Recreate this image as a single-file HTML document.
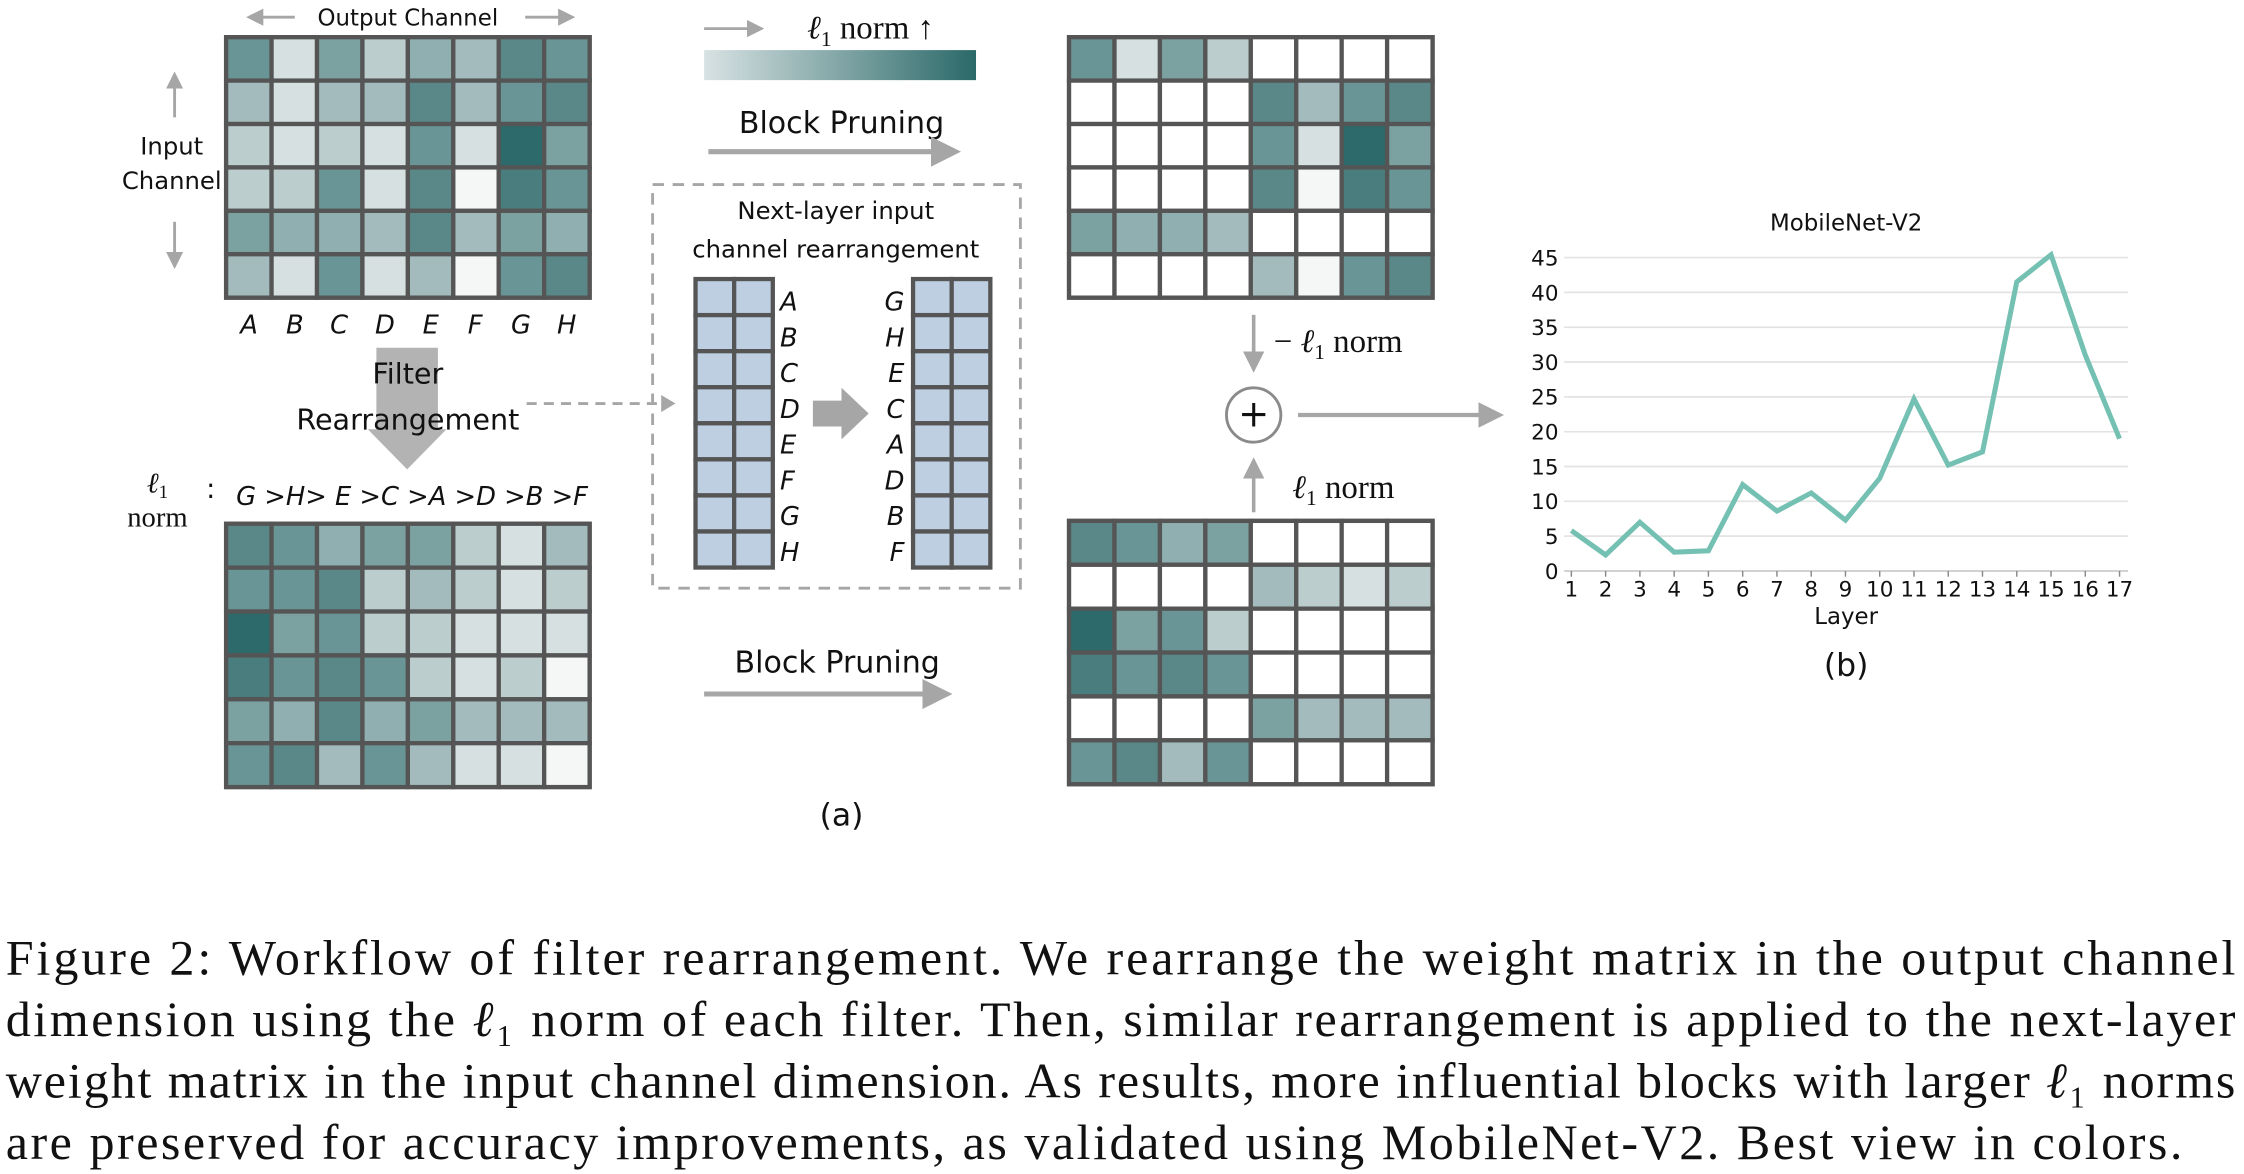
<!DOCTYPE html>
<html><head><meta charset="utf-8"><style>
html,body{margin:0;padding:0;background:#fff;}
svg{display:block;}
.s{font-family:"DejaVu Sans","Liberation Sans",sans-serif;fill:#111;}
.i{font-family:"DejaVu Sans","Liberation Sans",sans-serif;font-style:italic;fill:#111;}
.r{font-family:"Liberation Serif",serif;fill:#111;}
</style></head><body>
<svg id="sv" width="2244" height="1174" viewBox="0 0 1568 820.4" preserveAspectRatio="none" xmlns="http://www.w3.org/2000/svg">
<defs>
<linearGradient id="g" x1="0" x2="1"><stop offset="0" stop-color="#d8e2e3"/><stop offset="1" stop-color="#2b6969"/></linearGradient>
<marker id="ah" markerWidth="6" markerHeight="6" refX="5" refY="3" orient="auto" markerUnits="strokeWidth"><path d="M0,0 L6,3 L0,6 z" fill="#a6a6a6"/></marker>
</defs>
<g id="mats"></g>
<text class="s" x="285" y="18" font-size="16" text-anchor="middle">Output Channel</text>
<line x1="206" y1="12" x2="174" y2="12" stroke="#a6a6a6" stroke-width="2" marker-end="url(#ah)"/>
<line x1="367" y1="12" x2="400" y2="12" stroke="#a6a6a6" stroke-width="2" marker-end="url(#ah)"/>
<text class="s" x="120" y="108" font-size="17" text-anchor="middle">Input</text>
<text class="s" x="120" y="132" font-size="17" text-anchor="middle">Channel</text>
<line x1="122" y1="82" x2="122" y2="52" stroke="#a6a6a6" stroke-width="2" marker-end="url(#ah)"/>
<line x1="122" y1="155" x2="122" y2="186" stroke="#a6a6a6" stroke-width="2" marker-end="url(#ah)"/>
<g font-size="18" text-anchor="middle" class="i">
<text class="i" x="174" y="233">A</text><text class="i" x="206" y="233">B</text><text class="i" x="237" y="233">C</text><text class="i" x="269" y="233">D</text><text class="i" x="301" y="233">E</text><text class="i" x="332" y="233">F</text><text class="i" x="364" y="233">G</text><text class="i" x="396" y="233">H</text>
</g>
<path d="M263,243 H306 V300 H312 L284.5,328 L257,300 H263 Z" fill="#b3b3b3"/>
<text class="s" x="285" y="268" font-size="20" text-anchor="middle">Filter</text>
<text class="s" x="285" y="300" font-size="20" text-anchor="middle">Rearrangement</text>
<line x1="368" y1="282" x2="466" y2="282" stroke="#a6a6a6" stroke-width="2" stroke-dasharray="7,5"/>
<path d="M462,276 L472,282 L462,288 Z" fill="#a6a6a6"/>
<text class="r" x="110" y="344" font-size="20" text-anchor="middle"><tspan font-style="italic">ℓ</tspan><tspan font-size="13" dy="4">1</tspan></text>
<text class="r" x="110" y="368" font-size="20" text-anchor="middle">norm</text>
<text class="s" x="144" y="348" font-size="19">:</text>
<text class="i" x="165" y="353" font-size="18">G &gt;H&gt; E &gt;C &gt;A &gt;D &gt;B &gt;F</text>
<line x1="492" y1="20" x2="532" y2="20" stroke="#a6a6a6" stroke-width="2" marker-end="url(#ah)"/>
<text class="r" x="564" y="27" font-size="23"><tspan font-style="italic">ℓ</tspan><tspan font-size="15" dy="5">1</tspan><tspan dy="-5"> norm ↑</tspan></text>
<rect x="492" y="35" width="190" height="21" fill="url(#g)"/>
<text class="s" x="588" y="93" font-size="21" text-anchor="middle">Block Pruning</text>
<line x1="495" y1="106" x2="668" y2="106" stroke="#a6a6a6" stroke-width="3.5" marker-end="url(#ah)"/>
<text class="s" x="585" y="470" font-size="21" text-anchor="middle">Block Pruning</text>
<line x1="492" y1="485" x2="662" y2="485" stroke="#a6a6a6" stroke-width="3.5" marker-end="url(#ah)"/>
<text class="s" x="588" y="577" font-size="22" text-anchor="middle">(a)</text>
<rect x="456" y="129" width="257" height="282" fill="none" stroke="#a6a6a6" stroke-width="2" stroke-dasharray="8,6"/>
<text class="s" x="584" y="153" font-size="17" text-anchor="middle">Next-layer input</text>
<text class="s" x="584" y="180" font-size="17" text-anchor="middle">channel rearrangement</text>
<g id="cols"></g>
<g font-size="18" class="i">
<text class="i" x="545" y="217">A</text><text class="i" x="545" y="242">B</text><text class="i" x="545" y="267">C</text><text class="i" x="545" y="292">D</text><text class="i" x="545" y="317">E</text><text class="i" x="545" y="342">F</text><text class="i" x="545" y="367">G</text><text class="i" x="545" y="392">H</text>
</g>
<g font-size="18" class="i" text-anchor="end">
<text class="i" x="632" y="217">G</text><text class="i" x="632" y="242">H</text><text class="i" x="632" y="267">E</text><text class="i" x="632" y="292">C</text><text class="i" x="632" y="317">A</text><text class="i" x="632" y="342">D</text><text class="i" x="632" y="367">B</text><text class="i" x="632" y="392">F</text>
</g>
<path d="M568,280 H588 V271 L607,289 L588,307 V298 H568 Z" fill="#a6a6a6"/>
<line x1="876" y1="220" x2="876" y2="258" stroke="#a6a6a6" stroke-width="2.5" marker-end="url(#ah)"/>
<text class="r" x="890" y="246" font-size="23">− <tspan font-style="italic">ℓ</tspan><tspan font-size="15" dy="5">1</tspan><tspan dy="-5"> norm</tspan></text>
<circle cx="876" cy="290" r="19" fill="#fff" stroke="#8a8a8a" stroke-width="2"/>
<text class="s" x="876" y="298" font-size="26" text-anchor="middle">+</text>
<line x1="876" y1="358" x2="876" y2="322" stroke="#a6a6a6" stroke-width="2.5" marker-end="url(#ah)"/>
<text class="r" x="903" y="348" font-size="23"><tspan font-style="italic">ℓ</tspan><tspan font-size="15" dy="5">1</tspan><tspan dy="-5"> norm</tspan></text>
<line x1="907" y1="290" x2="1048" y2="290" stroke="#a6a6a6" stroke-width="3" marker-end="url(#ah)"/>
<g id="chart"></g>
<text class="s" x="1290" y="161" font-size="16" text-anchor="middle">MobileNet-V2</text>
<text class="s" x="1290" y="436" font-size="16" text-anchor="middle">Layer</text>
<text class="s" x="1290" y="472" font-size="22" text-anchor="middle">(b)</text>
<g font-size="35" class="r">
<text class="r" x="4" y="681" textLength="1558" lengthAdjust="spacing">Figure 2:  Workflow of filter rearrangement. We rearrange the weight matrix in the output channel</text>
<text class="r" x="4" y="724" textLength="1558" lengthAdjust="spacing">dimension using the <tspan font-style="italic">ℓ</tspan>₁ norm of each filter. Then, similar rearrangement is applied to the next-layer</text>
<text class="r" x="4" y="767" textLength="1558" lengthAdjust="spacing">weight matrix in the input channel dimension. As results, more influential blocks with larger <tspan font-style="italic">ℓ</tspan>₁ norms</text>
<text class="r" x="4" y="810" textLength="1521" lengthAdjust="spacing">are preserved for accuracy improvements, as validated using MobileNet-V2. Best view in colors.</text>
</g>
</svg>
<script>
var C=["#f5f7f7","#d6e0e1","#bccdce","#a3bbbc","#8fafb0","#7ca1a1","#6a9596","#5a8889","#4a7d7e","#2d6a6b"];
var NS="http://www.w3.org/2000/svg";
function R(p,x,y,w,h,f,sw){var r=document.createElementNS(NS,"rect");r.setAttribute("x",x);r.setAttribute("y",y);r.setAttribute("width",w);r.setAttribute("height",h);r.setAttribute("fill",f);r.setAttribute("stroke","#555");r.setAttribute("stroke-width",sw);p.appendChild(r);}
var W=-1;
var M1=[[6,1,5,2,4,3,7,6],[3,1,3,3,7,3,6,7],[2,1,2,1,6,1,9,5],[2,2,6,1,7,0,8,6],[5,4,4,3,7,3,5,4],[3,1,6,1,3,0,6,7]];
var M2=[[7,6,4,5,5,2,1,3],[6,6,7,2,3,2,1,2],[9,5,6,2,2,1,1,1],[8,6,7,6,2,1,2,0],[5,4,7,4,5,3,3,3],[6,7,3,6,3,1,1,0]];
function prune(M,pat){return M.map(function(r,i){return r.map(function(v,j){var left=j<4;return (pat[i]==(left?1:0))?v:W;});});}
var M3=prune(M1,[1,0,0,0,1,0]);
var M4=prune(M2,[1,0,1,1,0,1]);
var g=document.getElementById("mats");
function mat(M,x0,y0,w,h){var cw=w/8,ch=h/6;R(g,x0,y0,w,h,"#555",3);
for(var i=0;i<6;i++)for(var j=0;j<8;j++){var v=M[i][j];R(g,x0+j*cw,y0+i*ch,cw,ch,v<0?"#fff":C[v],3);}}
mat(M1,158,26,254,182);mat(M2,158,366,254,184);mat(M3,747,26,254,182);mat(M4,747,364,254,184);
var cg=document.getElementById("cols");
[[486,195],[638,195]].forEach(function(p){for(var i=0;i<8;i++)for(var j=0;j<2;j++)R(cg,p[0]+j*27,p[1]+i*25.2,27,25.2,"#bfcfe2",3);});
var ch=document.getElementById("chart");
var X=function(k){return 1098+(k-1)*23.94;},Y=function(v){return 399-v*4.867;};
var h="";
for(var v=0;v<=45;v+=5){var y=Y(v);h+='<line x1="1093" x2="1487" y1="'+y+'" y2="'+y+'" stroke="'+(v?"#e3e3e3":"#ccc")+'" stroke-width="1.2"/>';
h+='<text x="1089" y="'+(y+5.5)+'" font-size="15" text-anchor="end" font-family="DejaVu Sans,sans-serif" fill="#111">'+v+'</text>';}
for(var k=1;k<=17;k++){h+='<line x1="'+X(k)+'" x2="'+X(k)+'" y1="399" y2="403" stroke="#888"/>';h+='<text x="'+X(k)+'" y="417" font-size="15" text-anchor="middle" font-family="DejaVu Sans,sans-serif" fill="#111">'+k+'</text>';}
var d=[5.8,2.3,7,2.7,2.9,12.4,8.6,11.2,7.3,13.3,24.7,15.2,17.1,41.5,45.4,31,19];
h+='<polyline fill="none" stroke="#74c0b2" stroke-width="3.5" stroke-linejoin="miter" points="'+d.map(function(v,i){return X(i+1)+","+Y(v);}).join(" ")+'"/>';
ch.innerHTML=h;
</script>
</body></html>
